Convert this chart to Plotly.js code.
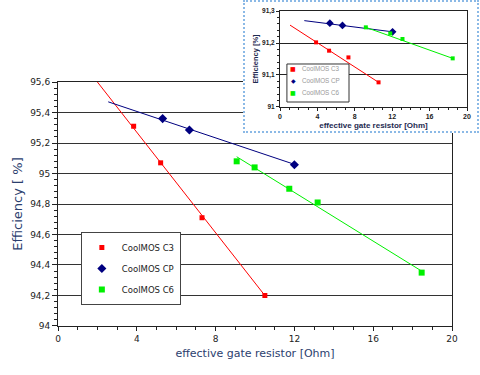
<!DOCTYPE html>
<html>
<head>
<meta charset="utf-8">
<script src="https://cdn.plot.ly/plotly-3.0.1.min.js"></script>
<style>
  html, body { margin:0; padding:0; background:#fff; overflow:hidden; }
  #main { position:absolute; left:0; top:0; width:480px; height:375px; }
  #insetWrap { position:absolute; left:243px; top:0px; width:236px; height:133px;
               box-sizing:border-box; border:2px dotted #8bb9e6; background:#fff; }
  #inset { position:absolute; left:0; top:0; width:232px; height:129px; }
</style>
</head>
<body>
<div id="main"></div>
<div id="insetWrap"><div id="inset"></div></div>
<script>
// ---- main chart data ----
const seriesNames = ['CoolMOS C3', 'CoolMOS CP', 'CoolMOS C6'];
const c3X = [3.84, 5.21, 7.31, 10.5];
const c3Y = [95.31, 95.07, 94.71, 94.2];
const cpX = [5.31, 6.67, 12.0];
const cpY = [95.36, 95.285, 95.057];
const c6X = [9.07, 9.98, 11.74, 13.18, 18.46];
const c6Y = [95.08, 95.04, 94.90, 94.81, 94.35];
// trend lines (as drawn)
const c3TrendX = [2.0, 10.5];
const c3TrendY = [95.6, 94.2];
const cpTrendX = [2.55, 12.0];
const cpTrendY = [95.47, 95.06];
const c6TrendX = [9.07, 18.46];
const c6TrendY = [95.11, 94.36];

// ---- inset chart data ----
const inC3X = [3.86, 5.25, 7.32, 10.54];
const inC3Y = [91.202, 91.176, 91.155, 91.077];
const inCpX = [5.33, 6.68, 12.04];
const inCpY = [91.262, 91.255, 91.235];
const inC6X = [9.18, 11.79, 13.1, 18.47];
const inC6Y = [91.249, 91.23, 91.2125, 91.152];
const inC3TrendX = [1.07, 10.54];
const inC3TrendY = [91.256, 91.077];
const inCpTrendX = [2.6, 12.04];
const inCpTrendY = [91.27, 91.235];
const inC6TrendX = [9.18, 18.47];
const inC6TrendY = [91.249, 91.152];

const RED = '#ff0000', NAVY = '#000080', GREEN = '#00f000';
const TITLE_COL = '#2b3e6e';

function line(x, y, color, grp) {
  return {x:x, y:y, type:'scatter', mode:'lines', line:{color:color, width:1},
          showlegend:false, legendgroup:grp, hoverinfo:'skip'};
}
function pts(x, y, color, symbol, size, name, grp) {
  return {x:x, y:y, type:'scatter', mode:'markers', name:name, legendgroup:grp,
          marker:{color:color, symbol:symbol, size:size, line:{width:0}}};
}

const mainData = [
  line(c3TrendX, c3TrendY, RED, 'a'),
  line(cpTrendX, cpTrendY, NAVY, 'b'),
  line(c6TrendX, c6TrendY, GREEN, 'c'),
  pts(c3X, c3Y, RED, 'square', 5, seriesNames[0], 'a'),
  pts(cpX, cpY, NAVY, 'diamond', 7, seriesNames[1], 'b'),
  pts(c6X, c6Y, GREEN, 'square', 6, seriesNames[2], 'c')
];

const mainLayout = {
  width:480, height:375,
  margin:{l:58, r:28, t:82, b:49},
  paper_bgcolor:'#fff', plot_bgcolor:'#fff',
  separators:',.',
  font:{family:'DejaVu Sans', size:9, color:'#222'},
  showlegend:true,
  legend:{x:0.058, y:0.385, xanchor:'left', yanchor:'top', bgcolor:'#fff',
          bordercolor:'#444', borderwidth:1, traceorder:'grouped', tracegroupgap:2,
          font:{family:'DejaVu Sans', size:8.5, color:'#222'}},
  xaxis:{range:[0,20], tick0:0, dtick:4, ticks:'outside', ticklen:4, tickcolor:'#222',
         showline:true, linecolor:'#222', linewidth:1, mirror:true,
         showgrid:false, zeroline:false,
         minor:{dtick:1, ticks:'outside', ticklen:3, tickcolor:'#222', showgrid:false},
         tickfont:{family:'DejaVu Sans', size:9, color:'#222'},
         title:{text:'effective gate resistor [Ohm]', standoff:6,
                font:{family:'DejaVu Sans', size:11, color:TITLE_COL}}},
  yaxis:{range:[93.9999, 95.6001], tick0:94, dtick:0.2, ticks:'outside', ticklen:5, tickcolor:'#222',
         showline:true, linecolor:'#222', linewidth:1, mirror:true,
         showgrid:true, gridcolor:'#333', gridwidth:1, zeroline:false,
         minor:{dtick:0.04, ticks:'outside', ticklen:3, tickcolor:'#222', showgrid:false},
         tickfont:{family:'DejaVu Sans', size:9, color:'#222'},
         title:{text:'Efficiency [ %]', standoff:4,
                font:{family:'DejaVu Sans', size:13, color:TITLE_COL}}}
};

Plotly.newPlot('main', mainData, mainLayout, {displayModeBar:false, staticPlot:true});

// ---- inset ----
const insetData = [
  line(inC3TrendX, inC3TrendY, RED, 'a'),
  line(inCpTrendX, inCpTrendY, NAVY, 'b'),
  line(inC6TrendX, inC6TrendY, GREEN, 'c'),
  pts(inC3X, inC3Y, RED, 'square', 4, seriesNames[0], 'a'),
  pts(inCpX, inCpY, NAVY, 'diamond', 6, seriesNames[1], 'b'),
  pts(inC6X, inC6Y, GREEN, 'square', 4, seriesNames[2], 'c')
];

const legRowsY = [0.396, 0.274, 0.149];
const legSyms = ['■', '◆', '■'];
const legCols = [RED, NAVY, GREEN];
const insetAnn = [];
for (let i = 0; i < 3; i++) {
  insetAnn.push({xref:'paper', yref:'paper', x:0.071, y:legRowsY[i], xanchor:'center', yanchor:'middle',
                 text:legSyms[i], showarrow:false, font:{family:'DejaVu Sans', size:6, color:legCols[i]}});
  insetAnn.push({xref:'paper', yref:'paper', x:0.107, y:legRowsY[i], xanchor:'left', yanchor:'middle',
                 text:seriesNames[i], showarrow:false, font:{family:'Liberation Sans', size:6.3, color:'#999'}});
}

const insetLayout = {
  width:232, height:129,
  margin:{l:35, r:10, t:9, b:24},
  paper_bgcolor:'#fff', plot_bgcolor:'#fff',
  separators:',.',
  showlegend:false,
  font:{family:'Liberation Sans', size:7, color:'#222'},
  xaxis:{range:[0,20], tick0:0, dtick:4, ticks:'outside', ticklen:3, tickcolor:'#222',
         showline:true, linecolor:'#222', linewidth:1, mirror:true,
         showgrid:false, zeroline:false,
         minor:{dtick:1, ticks:'outside', ticklen:2, tickcolor:'#222', showgrid:false},
         tickfont:{family:'Liberation Sans', size:7, color:'#222', weight:'bold'},
         title:{text:'<b>effective gate resistor [Ohm]</b>', standoff:2,
                font:{family:'Liberation Sans', size:8, color:'#1e2a50'}}},
  yaxis:{range:[90.9999, 91.3001], tick0:91, dtick:0.1, ticks:'outside', ticklen:3, tickcolor:'#222',
         showline:true, linecolor:'#222', linewidth:1, mirror:true,
         showgrid:true, gridcolor:'#222', gridwidth:1, zeroline:false,
         minor:{dtick:0.02, ticks:'outside', ticklen:2, tickcolor:'#222', showgrid:false},
         tickfont:{family:'Liberation Sans', size:6.5, color:'#222', weight:'bold'},
         title:{text:'<b>Efficiency [%]</b>', standoff:2,
                font:{family:'Liberation Sans', size:7.5, color:'#1e2a50'}}},
  shapes:[{type:'rect', xref:'paper', yref:'paper', x0:0.037, x1:0.369, y0:0.052, y1:0.448,
           line:{color:'#333', width:1}, fillcolor:'#fff', layer:'above'}],
  annotations:insetAnn
};

Plotly.newPlot('inset', insetData, insetLayout, {displayModeBar:false, staticPlot:true});
</script>
</body>
</html>
